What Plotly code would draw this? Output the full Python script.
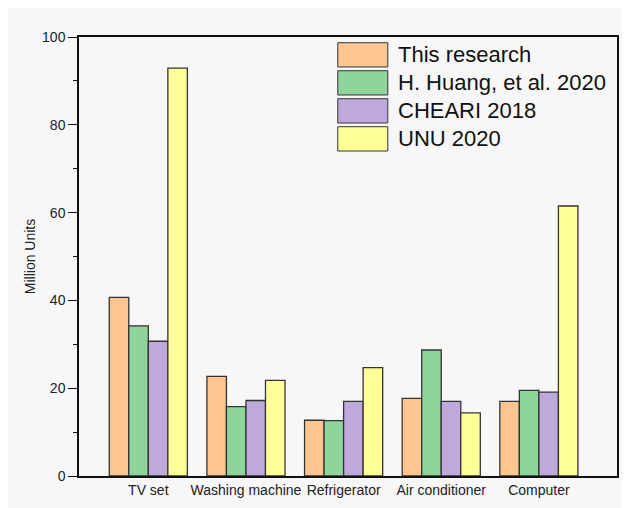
import plotly.graph_objects as go

categories = ['TV set', 'Washing machine', 'Refrigerator', 'Air conditioner', 'Computer']
series_names = ['This research', 'H. Huang, et al. 2020', 'CHEARI 2018', 'UNU 2020']
this_research = [40.7, 22.7, 12.7, 17.7, 17.0]
huang_2020 = [34.2, 15.8, 12.6, 28.7, 19.5]
cheari_2018 = [30.7, 17.2, 17.0, 17.0, 19.1]
unu_2020 = [92.9, 21.8, 24.7, 14.4, 61.5]
colors = ['#FDC58F', '#8FD49B', '#BFA9DB', '#FFFF99']

values = [this_research, huang_2020, cheari_2018, unu_2020]
font = 'Liberation Sans, Arial, sans-serif'

fig = go.Figure()
for name, vals, col in zip(series_names, values, colors):
    fig.add_trace(go.Bar(
        x=categories, y=vals, name=name,
        marker=dict(color=col, line=dict(color='#333333', width=1.3)),
        showlegend=False,
    ))

# legend drawn by hand so the swatches can be large
sw_top = 0.987
sw_h = 0.0553
sw_step = 0.0638
for i, (name, col) in enumerate(zip(series_names, colors)):
    y1 = sw_top - i * sw_step
    fig.add_shape(type='rect', xref='paper', yref='paper',
                  x0=0.481, x1=0.574, y0=y1 - sw_h, y1=y1,
                  fillcolor=col, line=dict(color='#333333', width=1))
    fig.add_annotation(xref='paper', yref='paper', x=0.589, y=y1 - sw_h / 2,
                       text=name, showarrow=False, xanchor='left', yanchor='middle',
                       font=dict(family=font, size=22, color='#111111'))

fig.update_layout(
    width=630, height=508,
    margin=dict(l=71, r=21, t=29, b=40),
    paper_bgcolor='#f7f7f7', plot_bgcolor='#f7f7f7',
    barmode='group', bargap=0.2, bargroupgap=0,
    font=dict(family=font, size=14, color='#222222'),
    xaxis=dict(range=[-0.71, 4.8], showline=True, linecolor='#111111', linewidth=1.5,
               mirror=True, ticks='', showgrid=False, tickfont=dict(size=14)),
    yaxis=dict(range=[0, 100], dtick=20, showline=True, linecolor='#111111', linewidth=1.5,
               mirror=True, ticks='outside', ticklen=9, tickwidth=1.2, tickcolor='#111111',
               showgrid=False, zeroline=False, tickfont=dict(size=14),
               minor=dict(dtick=10, ticks='outside', ticklen=4, tickwidth=1.2, tickcolor='#111111'),
               title=dict(text='Million Units', font=dict(size=14), standoff=3)),
)

fig.write_html('out.html')
